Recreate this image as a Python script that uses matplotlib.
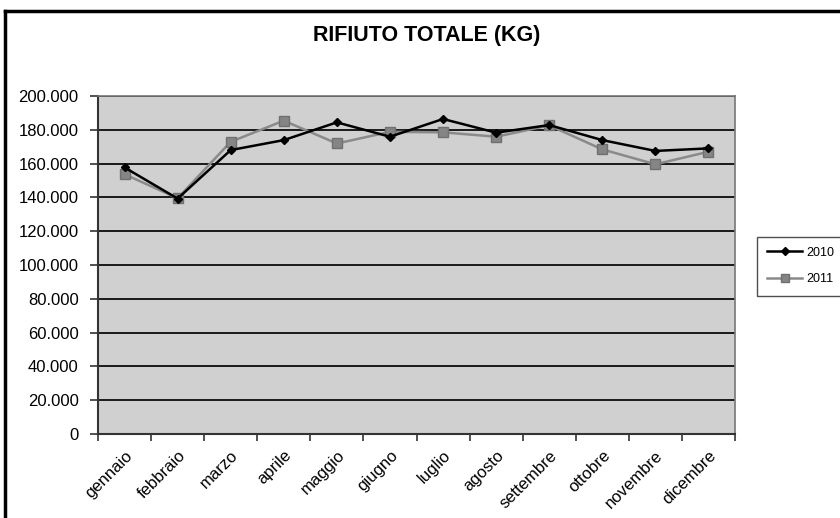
import matplotlib
matplotlib.use("Agg")
import matplotlib.pyplot as plt
from matplotlib.lines import Line2D
from matplotlib.ticker import FuncFormatter, FixedLocator
import numpy as np

plt.rcParams['font.family'] = ['Liberation Sans', 'DejaVu Sans']

months = ["gennaio", "febbraio", "marzo", "aprile", "maggio", "giugno",
          "luglio", "agosto", "settembre", "ottobre", "novembre", "dicembre"]
values_2010 = [157700, 139300, 168000, 173900, 184400, 175900,
               186400, 178300, 182800, 173900, 167500, 169000]
values_2011 = [153700, 139500, 172900, 185400, 171900, 178800,
               178500, 175900, 182600, 168400, 159600, 167000]
y_ticks = [0, 20000, 40000, 60000, 80000, 100000, 120000, 140000,
           160000, 180000, 200000]
title = "RIFIUTO TOTALE (KG)"

fig = plt.figure(figsize=(8.4, 5.18), dpi=100)
ax = fig.add_axes([98/840, 1-434/518, (735-98)/840, (434-96)/518])
ax.set_facecolor('#d0d0d0')

x = np.arange(len(months))
ax.plot(x, values_2010, color='black', lw=1.8, marker='D', ms=4.5,
        mfc='black', mec='black', label='2010', zorder=4)
ax.plot(x, values_2011, color='#8a8a8a', lw=1.8, marker='s', ms=6.5,
        mfc='#858585', mec='#707070', label='2011', zorder=3)

ax.set_xlim(-0.5, len(months) - 0.5)
ax.set_ylim(0, 200000)
ax.yaxis.set_major_locator(FixedLocator(y_ticks))
ax.yaxis.set_major_formatter(FuncFormatter(
    lambda v, p: "0" if v == 0 else f"{int(v):,}".replace(",", ".")))
for t in y_ticks[1:]:
    ax.axhline(t, color='#1a1a1a', lw=1.4, zorder=1)

ax.set_xticks(x)
ax.set_xticklabels(months, rotation=45, ha='right', rotation_mode='anchor',
                   fontsize=12)
ax.set_xticks(np.arange(-0.5, len(months)), minor=True)
ax.tick_params(axis='x', which='major', length=0, pad=10)
ax.tick_params(axis='x', which='minor', length=5, width=1.2, color='#333333')
ax.tick_params(axis='y', length=6, width=1.2, color='#333333', labelsize=12,
               pad=8)

for s in ['top', 'right']:
    ax.spines[s].set_color('#777777')
    ax.spines[s].set_linewidth(1.2)
for s in ['left', 'bottom']:
    ax.spines[s].set_color('#333333')
    ax.spines[s].set_linewidth(1.5)

fig.text(427/840, 1-36/518, title, ha='center', va='center',
         fontsize=15.5, fontweight='bold')

leg = fig.legend(loc='center left', bbox_to_anchor=(751/840, 1-266/518),
                 fontsize=9, frameon=True, fancybox=False,
                 handlelength=2.8, labelspacing=1.2, borderpad=0.8,
                 handletextpad=0.3, markerscale=0.8)
leg.get_frame().set_edgecolor('#222222')
leg.get_frame().set_linewidth(1.0)

# outer chart border (top and left visible)
fig.add_artist(Line2D([5/840, 1], [1-11/518, 1-11/518], color='black', lw=2.5,
                      transform=fig.transFigure))
fig.add_artist(Line2D([5/840, 5/840], [0, 1-11/518], color='black', lw=2.5,
                      transform=fig.transFigure))

fig.savefig("out.png", dpi=100)
